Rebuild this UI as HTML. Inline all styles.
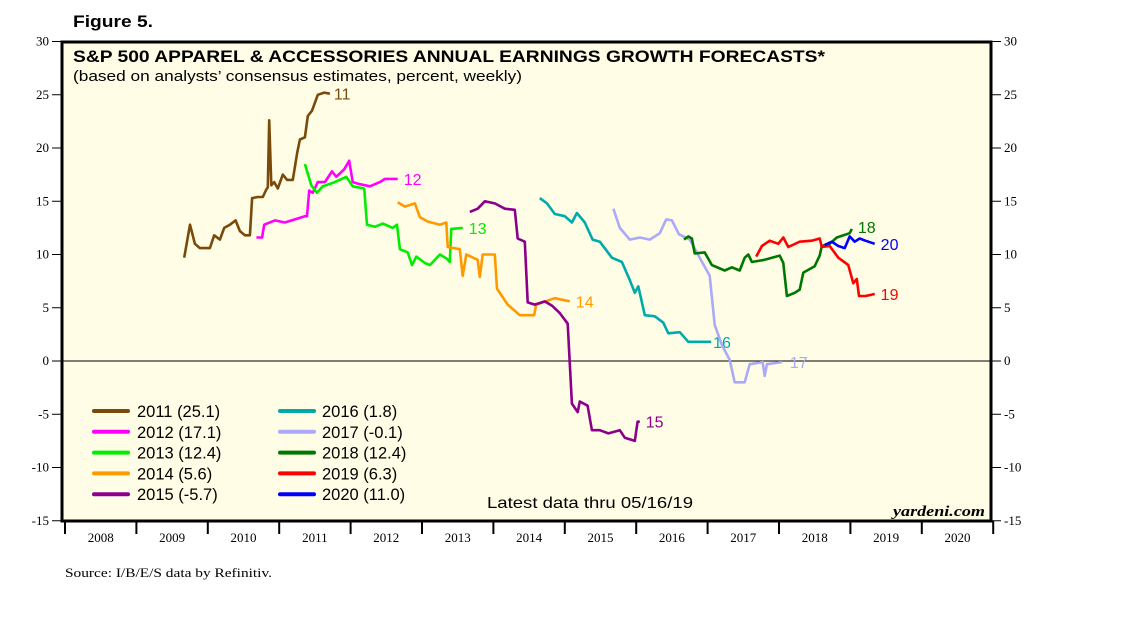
<!DOCTYPE html>
<html><head><meta charset="utf-8"><style>
body{margin:0;background:#fff;}
svg{display:block;}
.ax{font-family:"Liberation Serif",serif;font-size:13px;fill:#000;}
.sans{font-family:"Liberation Sans",sans-serif;}
</style></head><body>
<svg id="chart" width="1138" height="621" viewBox="0 0 1138 621">
<text x="73" y="27" class="sans" font-size="17" font-weight="bold" textLength="80" lengthAdjust="spacingAndGlyphs">Figure 5.</text>
<rect x="62" y="42" width="929" height="479" fill="#fffde6" stroke="#000" stroke-width="3"/>
<text x="73" y="62" class="sans" font-size="17" font-weight="bold" textLength="752" lengthAdjust="spacingAndGlyphs">S&amp;P 500 APPAREL &amp; ACCESSORIES ANNUAL EARNINGS GROWTH FORECASTS*</text>
<text x="73" y="81" class="sans" font-size="15" textLength="449" lengthAdjust="spacingAndGlyphs">(based on analysts’ consensus estimates, percent, weekly)</text>
<g id="axes"></g>
<g id="series"></g>
<g id="legend"></g>
<text x="487" y="508" class="sans" font-size="16" textLength="206" lengthAdjust="spacingAndGlyphs">Latest data thru 05/16/19</text>
<text x="893" y="516" font-family="Liberation Serif,serif" font-size="15" font-weight="bold" font-style="italic" textLength="92" lengthAdjust="spacingAndGlyphs">yardeni.com</text>
<text x="65" y="577" class="ax" font-size="13" textLength="207" lengthAdjust="spacingAndGlyphs">Source: I/B/E/S data by Refinitiv.</text>
</svg>
<script>
const yTicks=[30,25,20,15,10,5,0,-5,-10,-15];
const years=[2008,2009,2010,2011,2012,2013,2014,2015,2016,2017,2018,2019,2020];
const seriesNames=["2011","2012","2013","2014","2015","2016","2017","2018","2019","2020"];
const seriesLast=["25.1","17.1","12.4","5.6","-5.7","1.8","-0.1","12.4","6.3","11.0"];
const colors=["#7a4a0a","#ff00ff","#00ee00","#ff9900","#8b008b","#00aaaa","#aaaaf8","#007700","#ff0000","#0000ff"];
const t2011=[2009.67,2009.75,2009.82,2009.89,2010.03,2010.09,2010.17,2010.23,2010.31,2010.39,2010.45,2010.52,2010.59,2010.62,2010.70,2010.77,2010.82,2010.84,2010.86,2010.89,2010.93,2010.98,2011.05,2011.11,2011.19,2011.25,2011.29,2011.36,2011.40,2011.46,2011.54,2011.63,2011.71];
const v2011=[9.7,12.8,11,10.6,10.6,11.8,11.4,12.5,12.8,13.2,12.2,11.8,11.8,15.3,15.4,15.4,16.1,16.3,22.6,16.5,16.8,16.2,17.5,17,17,19.5,20.8,21,23,23.5,25,25.2,25.1];
const t2012=[2010.68,2010.76,2010.79,2010.94,2011.08,2011.22,2011.36,2011.39,2011.42,2011.47,2011.54,2011.64,2011.74,2011.80,2011.91,2011.98,2012.03,2012.13,2012.27,2012.41,2012.48,2012.66];
const v2012=[11.6,11.6,12.8,13.2,13,13.3,13.6,13.6,16,15.8,16.8,16.8,17.8,17.3,18,18.8,16.8,16.6,16.4,16.8,17.1,17.1];
const t2013=[2011.36,2011.45,2011.53,2011.61,2011.78,2011.94,2012.03,2012.19,2012.23,2012.34,2012.45,2012.59,2012.65,2012.69,2012.80,2012.86,2012.92,2013.04,2013.11,2013.25,2013.35,2013.39,2013.41,2013.57];
const v2013=[18.5,16.5,15.8,16.4,16.8,17.3,16.4,16.2,12.8,12.6,12.9,12.5,12.8,10.5,10.2,9,9.8,9.2,9,10,9.6,9.3,12.4,12.5];
const t2014=[2012.66,2012.76,2012.90,2012.97,2013.08,2013.25,2013.34,2013.36,2013.53,2013.57,2013.62,2013.78,2013.81,2013.85,2014.02,2014.05,2014.20,2014.37,2014.57,2014.60,2014.86,2015.07];
const v2014=[14.9,14.5,14.8,13.5,13.1,12.8,13,10.7,10.5,8,10,9.5,7.9,10,10,6.8,5.3,4.3,4.3,5.3,5.9,5.6];
const t2015=[2013.67,2013.78,2013.88,2014.02,2014.16,2014.30,2014.34,2014.44,2014.48,2014.58,2014.72,2014.82,2014.93,2015.04,2015.10,2015.18,2015.21,2015.32,2015.38,2015.49,2015.61,2015.77,2015.84,2015.98,2016.02,2016.05];
const v2015=[14,14.3,15,14.8,14.3,14.2,11.5,11.2,5.5,5.3,5.6,5.2,4.5,3.5,-4,-4.8,-3.8,-4.2,-6.5,-6.5,-6.8,-6.5,-7.2,-7.5,-5.7,-5.7];
const t2016=[2014.65,2014.75,2014.86,2015.00,2015.10,2015.17,2015.28,2015.39,2015.49,2015.66,2015.80,2015.91,2015.98,2016.03,2016.12,2016.26,2016.38,2016.45,2016.61,2016.73,2016.89,2017.05];
const v2016=[15.3,14.8,13.8,13.6,13,13.9,13,11.4,11.2,9.7,9.3,7.6,6.4,7,4.3,4.2,3.6,2.6,2.7,1.8,1.8,1.8];
const t2017=[2015.68,2015.77,2015.91,2016.05,2016.19,2016.33,2016.42,2016.50,2016.60,2016.75,2016.89,2017.03,2017.10,2017.20,2017.31,2017.38,2017.52,2017.59,2017.77,2017.80,2017.83,2018.04];
const v2017=[14.3,12.5,11.4,11.6,11.4,12,13.3,13.2,11.9,11.4,9.7,8,3.4,1.5,0.1,-2,-2,-0.3,-0.1,-1.4,-0.3,-0.1];
const t2018=[2016.67,2016.73,2016.78,2016.82,2016.96,2017.06,2017.24,2017.34,2017.45,2017.52,2017.57,2017.62,2017.80,2018.01,2018.06,2018.11,2018.22,2018.29,2018.34,2018.50,2018.57,2018.60,2018.71,2018.81,2018.99,2019.02];
const v2018=[11.4,11.7,11.5,10.1,10.2,9,8.5,8.8,8.5,9.7,10,9.3,9.5,9.9,9.2,6.1,6.4,6.7,8.3,8.9,9.9,10.8,11,11.6,12,12.4];
const t2019=[2017.68,2017.76,2017.87,2017.99,2018.06,2018.13,2018.29,2018.46,2018.57,2018.60,2018.71,2018.83,2018.97,2019.04,2019.09,2019.12,2019.21,2019.28,2019.34];
const v2019=[9.8,10.8,11.3,11,11.6,10.7,11.2,11.3,11.5,10.7,10.8,9.7,9,7.3,7.7,6.1,6.1,6.2,6.3];
const t2020=[2018.64,2018.74,2018.83,2018.92,2018.99,2019.06,2019.13,2019.21,2019.34];
const v2020=[10.9,11.2,10.8,10.6,11.7,11.2,11.5,11.3,11.0];
const allT=[t2011,t2012,t2013,t2014,t2015,t2016,t2017,t2018,t2019,t2020];
const allV=[v2011,v2012,v2013,v2014,v2015,v2016,v2017,v2018,v2019,v2020];
const endLabels=["11","12","13","14","15","16","17","18","19","20"];
const labelDx=[4,6,6,6,6,2,8,6,6,6],labelDy=[0,0,0,0,0,0,0,-2,0,0];

const NS="http://www.w3.org/2000/svg";
const X0=65,YW=71.4,Y0=361,YS=10.65;
function xs(t){return X0+(t-2008)*YW;}
function ys(v){return Y0-v*YS;}
function mk(tag,attrs,parent){const e=document.createElementNS(NS,tag);for(const k in attrs)e.setAttribute(k,attrs[k]);parent.appendChild(e);return e;}
const axes=document.getElementById('axes');
yTicks.forEach(v=>{
  const y=ys(v);
  let l=mk('line',{x1:52,x2:61,y1:y,y2:y,stroke:'#000'},axes);
  
  
  let r=mk('line',{x1:992,x2:1001,y1:y,y2:y,stroke:'#000'},axes);
  
  
  let t=mk('text',{x:49,y:y+4,'text-anchor':'end',class:'ax'},axes);t.textContent=v;
  
  
  let t2=mk('text',{x:1004,y:y+4,class:'ax'},axes);t2.textContent=v;
  
  
});
let zl=mk('line',{x1:62,x2:991,y1:ys(0),y2:ys(0),stroke:'#000','stroke-width':1},axes);


for(let i=0;i<=years.length;i++){
  const x=xs(2008+i);
  let tk=mk('line',{x1:x,x2:x,y1:521,y2:534,stroke:'#000','stroke-width':2},axes);
  
  
}
years.forEach(yr=>{
  let t=mk('text',{x:xs(yr+0.5),y:542,'text-anchor':'middle',class:'ax'},axes);t.textContent=yr;
  
  
});
const sg=document.getElementById('series');
allT.forEach((ts,i)=>{
  const pts=ts.map((t,j)=>xs(t).toFixed(1)+','+ys(allV[i][j]).toFixed(1)).join(' ');
  let p=mk('polyline',{points:pts,fill:'none',stroke:colors[i],'stroke-width':2.6,'stroke-linejoin':'round'},sg);
  
  
  const lt=ts[ts.length-1],lv=allV[i][allV[i].length-1];
  let t=mk('text',{x:xs(lt)+labelDx[i],y:ys(lv)+6+labelDy[i],fill:colors[i],class:'sans','font-size':16},sg);
  t.textContent=endLabels[i];
  
  
});
const lg=document.getElementById('legend');
seriesNames.forEach((n,i)=>{
  const col=Math.floor(i/5),row=i%5;
  const lx=col?280:94,tx=col?322:137,y=411+row*20.8;
  let l=mk('line',{x1:lx,x2:lx+34,y1:y,y2:y,stroke:colors[i],'stroke-width':4,'stroke-linecap':'round'},lg);
  
  
  let t=mk('text',{x:tx,y:y+6,class:'sans','font-size':16.5},lg);
  t.textContent=n+' ('+seriesLast[i]+')';
  
  
});
</script>
</body></html>
